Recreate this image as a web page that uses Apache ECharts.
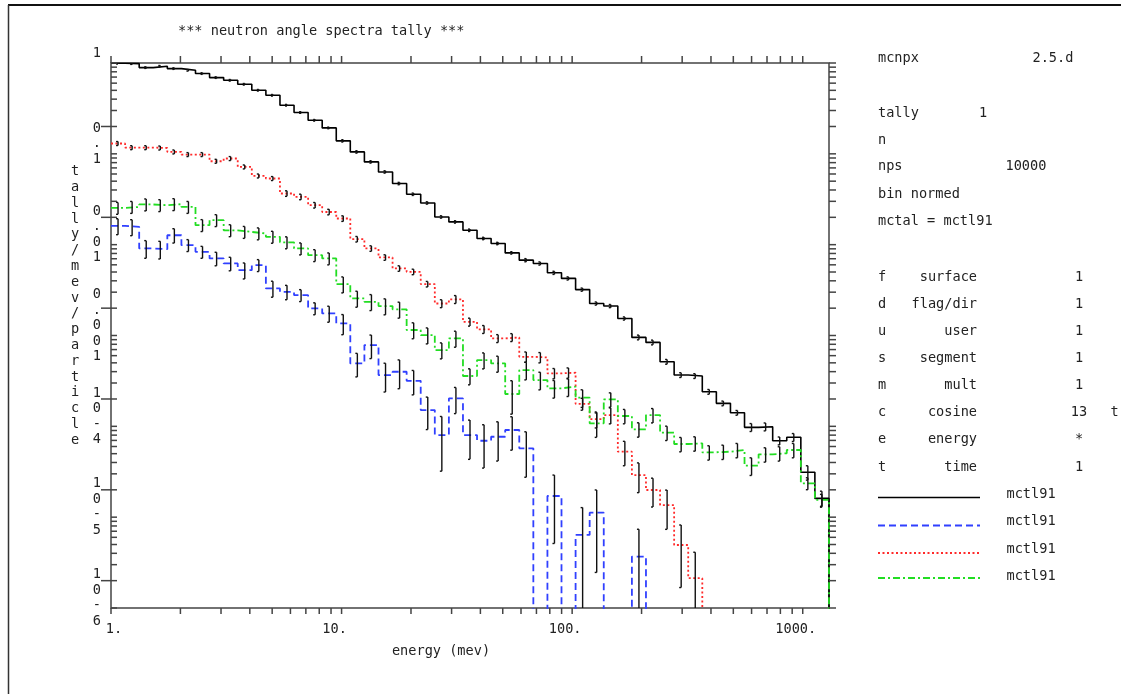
<!DOCTYPE html>
<html>
<head>
<meta charset="utf-8">
<script src="https://cdn.jsdelivr.net/npm/echarts@6/dist/echarts.min.js"></script>
<style>
  html, body { margin: 0; padding: 0; background: #fff; }
  #chart { width: 1121px; height: 694px; }
</style>
</head>
<body>
<div id="chart"></div>
<script>
// energy bin edges (mev), 51 bins
const energyEdges = [1, 1.151, 1.325, 1.525, 1.755, 2.020, 2.325, 2.676, 3.080, 3.545,
  4.080, 4.696, 5.405, 6.221, 7.160, 8.240, 9.483, 10.91, 12.56, 14.46,
  16.64, 19.15, 22.04, 25.37, 29.20, 33.61, 38.68, 44.52, 51.24, 58.97,
  67.87, 78.12, 89.91, 103.5, 119.1, 137.1, 157.8, 181.6, 209.0, 240.6,
  276.9, 318.7, 366.8, 422.1, 485.9, 559.2, 643.6, 740.8, 852.6, 981.3,
  1129, 1300];

// black solid
const blackTally = [0.995, 0.985, 0.890, 0.920, 0.868, 0.831, 0.765, 0.691, 0.645, 0.583,
  0.501, 0.441, 0.343, 0.285, 0.234, 0.193, 0.139, 0.105, 0.0815, 0.0632,
  0.0471, 0.0359, 0.0288, 0.0202, 0.0178, 0.0144, 0.0117, 0.0103, 0.00812, 0.00675,
  0.00621, 0.00490, 0.00425, 0.00320, 0.00225, 0.00211, 0.00154, 0.000953, 0.000839, 0.000514,
  0.000367, 0.000358, 0.000240, 0.000179, 0.000141, 0.0000975, 0.0000990, 0.0000694, 0.0000757, 0.0000312,
  0.0000161];
const blackErr = [0.02, 0.02, 0.02, 0.02, 0.02, 0.02, 0.02, 0.02, 0.02, 0.02,
  0.02, 0.02, 0.02, 0.02, 0.02, 0.02, 0.03, 0.03, 0.03, 0.03,
  0.03, 0.03, 0.03, 0.03, 0.03, 0.03, 0.03, 0.03, 0.03, 0.04,
  0.04, 0.04, 0.04, 0.04, 0.04, 0.04, 0.04, 0.06, 0.06, 0.06,
  0.06, 0.06, 0.06, 0.06, 0.06, 0.1, 0.1, 0.1, 0.1, 0.18,
  0.2];

// blue dashed
const blueTally = [0.0161, 0.0157, 0.00908, 0.00892, 0.0127, 0.00988, 0.00833, 0.00705, 0.00621, 0.00524,
  0.00595, 0.00330, 0.00302, 0.00278, 0.00199, 0.00175, 0.00136, 0.000493, 0.000784, 0.000367,
  0.000399, 0.000317, 0.000151, 0.0000802, 0.000203, 0.0000802, 0.0000694, 0.0000768, 0.0000911, 0.0000573,
  0, 0.0000171, 0, 0.00000637, 0.0000112, 0, 0, 0.00000368, 0, 0,
  0, 0, 0, 0, 0, 0, 0, 0, 0, 0,
  0];
const blueErr = [0.2, 0.2, 0.22, 0.22, 0.18, 0.15, 0.15, 0.17, 0.17, 0.2,
  0.15, 0.2, 0.18, 0.15, 0.15, 0.2, 0.25, 0.29, 0.29, 0.35,
  0.35, 0.3, 0.39, 0.6, 0.32, 0.46, 0.5, 0.46, 0.4, 0.52,
  0, 0.7, 0, 1.0, 0.78, 0, 0, 1.0, 0, 0,
  0, 0, 0, 0, 0, 0, 0, 0, 0, 0,
  0];

// red dotted
const redTally = [0.130, 0.117, 0.117, 0.116, 0.105, 0.0982, 0.0982, 0.0829, 0.0888, 0.0718,
  0.0571, 0.0535, 0.0366, 0.0336, 0.0272, 0.0229, 0.0194, 0.0115, 0.00908, 0.00723,
  0.00547, 0.00502, 0.00368, 0.00225, 0.00250, 0.00141, 0.00117, 0.000929, 0.000953, 0.000583,
  0.000574, 0.000383, 0.000389, 0.000177, 0.000120, 0.000133, 0.0000526, 0.0000291, 0.0000199, 0.0000136,
  0.00000494, 0.00000213, 0, 0, 0, 0, 0, 0, 0, 0,
  0];
const redErr = [0.05, 0.05, 0.05, 0.05, 0.05, 0.05, 0.05, 0.05, 0.05, 0.05,
  0.05, 0.05, 0.07, 0.07, 0.07, 0.07, 0.07, 0.07, 0.07, 0.07,
  0.07, 0.07, 0.07, 0.1, 0.1, 0.1, 0.1, 0.1, 0.1, 0.13,
  0.13, 0.13, 0.13, 0.15, 0.2, 0.2, 0.3, 0.36, 0.35, 0.46,
  0.66, 0.93, 0, 0, 0, 0, 0, 0, 0, 0,
  0];

// green dash-dot
const greenTally = [0.0254, 0.0260, 0.0277, 0.0272, 0.0279, 0.0260, 0.0164, 0.0186, 0.0144, 0.0138,
  0.0133, 0.0122, 0.0106, 0.00908, 0.00766, 0.00705, 0.00368, 0.00256, 0.00235, 0.00211,
  0.00194, 0.00115, 0.00101, 0.000691, 0.000929, 0.000358, 0.000536, 0.000493, 0.000227, 0.000416,
  0.000323, 0.000262, 0.000273, 0.000207, 0.000108, 0.000198, 0.000130, 0.0000927, 0.000133, 0.0000851,
  0.0000639, 0.0000650, 0.0000518, 0.0000526, 0.0000549, 0.0000369, 0.0000492, 0.0000505, 0.0000549, 0.0000236,
  0.0000155];
const greenErr = [0.15, 0.15, 0.15, 0.15, 0.15, 0.15, 0.15, 0.15, 0.15, 0.15,
  0.15, 0.15, 0.15, 0.15, 0.15, 0.15, 0.2, 0.2, 0.2, 0.2,
  0.2, 0.2, 0.2, 0.2, 0.2, 0.2, 0.2, 0.2, 0.4, 0.22,
  0.22, 0.22, 0.22, 0.22, 0.3, 0.18, 0.18, 0.18, 0.18, 0.18,
  0.18, 0.18, 0.18, 0.18, 0.18, 0.22, 0.18, 0.18, 0.18, 0.15,
  0.15];

const xTickValues = [1, 10, 100, 1000];
const xTickLabels = ['1.', '10.', '100.', '1000.'];
const yTickValues = [1, 0.1, 0.01, 0.001, 1e-4, 1e-5, 1e-6];
const yTickLabels = ['1', '0.1', '0.01', '0.001', '10-4', '10-5', '10-6'];

const headerRows = [['mcnpx', '2.5.d'], ['tally', '1'], ['n', ''], ['nps', '10000'], ['bin normed', ''], ['mctal = mctl91', '']];
const binRows = [['f', 'surface', '1'], ['d', 'flag/dir', '1'], ['u', 'user', '1'], ['s', 'segment', '1'],
  ['m', 'mult', '1'], ['c', 'cosine', '13'], ['e', 'energy', '*'], ['t', 'time', '1']];
const legendNames = ['mctl91', 'mctl91', 'mctl91', 'mctl91'];

const X_MIN = 1, X_MAX = 1300, Y_MIN = 1e-6, Y_MAX = 1;
const FLOOR = 1e-12;
const FONT_FAMILY = '"DejaVu Sans Mono", monospace';
const FONT = '13.6px ' + FONT_FAMILY;
const TEXT = '#222';

function labelFor(values, labels, v) {
  for (let i = 0; i < values.length; i++) {
    if (Math.abs(Math.log10(v) - Math.log10(values[i])) < 1e-6) return labels[i];
  }
  return '';
}

// histogram as a step line from bin edges
function stepData(vals) {
  const pts = vals.map((v, i) => [energyEdges[i], v > 0 ? v : FLOOR]);
  const last = vals[vals.length - 1];
  pts.push([energyEdges[vals.length], last > 0 ? last : FLOOR]);
  pts.push([energyEdges[vals.length], FLOOR]);
  return pts;
}

function errData(vals, errs) {
  const out = [];
  vals.forEach((v, i) => {
    if (v > 0 && errs[i] > 0) {
      const xc = Math.sqrt(energyEdges[i] * energyEdges[i + 1]);
      out.push([xc, v, Math.max(v * (1 - errs[i]), FLOOR), v * (1 + errs[i])]);
    }
  });
  return out;
}

function histSeries(name, vals, color, dash, width) {
  return {
    name: name, type: 'line', step: 'end', symbol: 'none', clip: true,
    data: stepData(vals),
    lineStyle: { color: color, width: width, type: dash },
    z: 3
  };
}

function errSeries(vals, errs) {
  return {
    type: 'custom', clip: true, z: 4,
    data: errData(vals, errs),
    renderItem: function (params, api) {
      const x = api.value(0);
      const top = api.coord([x, api.value(3)]);
      const bot = api.coord([x, api.value(2)]);
      const st = { stroke: '#111', lineWidth: 1.4 };
      return {
        type: 'group', children: [
          { type: 'line', shape: { x1: top[0], y1: top[1], x2: bot[0], y2: bot[1] }, style: st },
          { type: 'line', shape: { x1: top[0] - 2, y1: top[1], x2: top[0], y2: top[1] }, style: st },
          { type: 'line', shape: { x1: bot[0] - 2, y1: bot[1], x2: bot[0], y2: bot[1] }, style: st }
        ]
      };
    }
  };
}

// tick positions 1..9 per decade
const xTickAll = [];
for (let d = 1; d <= 1000; d *= 10) for (let m = 1; m <= 9; m++) if (m * d <= X_MAX) xTickAll.push([m * d, Y_MAX, m]);
const yTickAll = [];
for (let d = 1e-6; d < 1.5; d *= 10) for (let m = 1; m <= 9; m++) if (m * d <= Y_MAX * 1.0001) yTickAll.push([X_MIN, m * d, m]);

const tickStyle = { stroke: '#444', lineWidth: 1.5 };

const xTickSeries = {
  type: 'custom', clip: false, silent: true, z: 5,
  data: xTickAll,
  renderItem: function (params, api) {
    const x = api.value(0);
    const top = api.coord([x, Y_MAX]);
    const bot = api.coord([x, Y_MIN]);
    return {
      type: 'group', children: [
        { type: 'line', shape: { x1: top[0], y1: top[1], x2: top[0], y2: top[1] - 7 }, style: tickStyle },
        { type: 'line', shape: { x1: bot[0], y1: bot[1], x2: bot[0], y2: bot[1] + 6 }, style: tickStyle }
      ]
    };
  }
};

const yTickSeries = {
  type: 'custom', clip: false, silent: true, z: 5,
  data: yTickAll,
  renderItem: function (params, api) {
    const y = api.value(1);
    const left = api.coord([X_MIN, y]);
    const right = api.coord([X_MAX, y]);
    const kids = [
      { type: 'line', shape: { x1: left[0], y1: left[1], x2: left[0] + 6, y2: left[1] }, style: tickStyle },
      { type: 'line', shape: { x1: right[0], y1: right[1], x2: right[0] + 7, y2: right[1] }, style: tickStyle }
    ];
    if (api.value(2) === 2) {
      kids.push({ type: 'line', shape: { x1: left[0] - 10, y1: left[1], x2: left[0], y2: left[1] }, style: tickStyle });
    }
    return { type: 'group', children: kids };
  }
};

function txt(text, x, y, align, extra) {
  const style = Object.assign({
    text: text, font: FONT, fill: TEXT,
    textAlign: align || 'left', textVerticalAlign: 'middle',
    align: align || 'left', verticalAlign: 'middle'
  }, extra || {});
  return { type: 'text', x: x, y: y, silent: true, style: style };
}

const graphics = [];
// frame
graphics.push({ type: 'line', shape: { x1: 8, y1: 5, x2: 1121, y2: 5 }, style: { stroke: '#111', lineWidth: 2 } });
graphics.push({ type: 'line', shape: { x1: 8.5, y1: 5, x2: 8.5, y2: 694 }, style: { stroke: '#333', lineWidth: 1.5 } });
// title and axis names
graphics.push(txt('*** neutron angle spectra tally ***', 178, 31, 'left'));
graphics.push(txt('tally/mev/particle'.split('').join('\n'), 75, 306, 'center', { lineHeight: 15.8 }));
graphics.push(txt('energy (mev)', 441, 651, 'center'));
// info panel
const headerY = [58.5, 113.3, 140, 166.7, 194, 221];
headerRows.forEach((r, i) => {
  graphics.push(txt(r[0], 878, headerY[i], 'left'));
});
graphics.push(txt(headerRows[0][1], 1032.5, headerY[0], 'left'));
graphics.push(txt(headerRows[1][1], 983, headerY[1], 'center'));
graphics.push(txt(headerRows[3][1], 1005.5, headerY[3], 'left'));
binRows.forEach((r, i) => {
  const y = 277 + i * 27.15;
  graphics.push(txt(r[0], 878, y, 'left'));
  graphics.push(txt(r[1], 977, y, 'right'));
  graphics.push(txt(r[2], 1079, y, 'center'));
});
graphics.push(txt('t', 1110.5, 277 + 5 * 27.15, 'left'));
// legend samples
const legendStyles = [
  { stroke: '#000', lineWidth: 1.6 },
  { stroke: '#3040ff', lineWidth: 1.8, lineDash: [7, 4] },
  { stroke: '#ff2a2a', lineWidth: 1.8, lineDash: [2, 2.5] },
  { stroke: '#22dd22', lineWidth: 1.8, lineDash: [7, 3, 2, 3] }
];
const legendTextY = [494, 521.5, 549, 576];
const legendLineY = [497.5, 525.5, 553, 578];
legendNames.forEach((n, i) => {
  graphics.push({ type: 'line', silent: true, shape: { x1: 878, y1: legendLineY[i], x2: 980, y2: legendLineY[i] }, style: legendStyles[i] });
  graphics.push(txt(n, 1006.5, legendTextY[i], 'left'));
});

const chart = echarts.init(document.getElementById('chart'), null, { renderer: 'canvas' });
chart.setOption({
  backgroundColor: '#fff',
  animation: false,
  grid: {
    left: 111, top: 63, right: 292, bottom: 86,
    show: true, borderColor: '#444', borderWidth: 1.5, backgroundColor: 'transparent'
  },
  xAxis: {
    type: 'log', logBase: 10, min: X_MIN, max: X_MAX,
    axisLine: { show: false }, axisTick: { show: false }, splitLine: { show: false },
    axisLabel: {
      margin: 14, color: TEXT, fontFamily: FONT_FAMILY, fontSize: 13.6,
      showMinLabel: true, showMaxLabel: true,
      formatter: function (v) {
        const s = labelFor(xTickValues, xTickLabels, v);
        if (!s) return '';
        return s === '1.' ? '{f|' + s + '}' : '{n|' + s + '}';
      },
      rich: {
        n: { fontFamily: FONT_FAMILY, fontSize: 13.6, color: TEXT, padding: [0, 14, 0, 0] },
        f: { fontFamily: FONT_FAMILY, fontSize: 13.6, color: TEXT, padding: [0, 0, 0, 6] }
      }
    }
  },
  yAxis: {
    type: 'log', logBase: 10, min: Y_MIN, max: Y_MAX,
    axisLine: { show: false }, axisTick: { show: false }, splitLine: { show: false },
    axisLabel: {
      margin: 10, color: TEXT, fontFamily: FONT_FAMILY, fontSize: 13.6,
      align: 'right', verticalAlign: 'middle',
      showMinLabel: true, showMaxLabel: true,
      // characters stacked vertically, lifted about 10px above the tick
      formatter: function (v) {
        const s = labelFor(yTickValues, yTickLabels, v);
        if (!s) return '';
        return s.split('').map(c => '{c|' + c + '}').join('\n') + '\n{gap| }';
      },
      rich: {
        c: { fontFamily: FONT_FAMILY, fontSize: 13.6, color: TEXT, lineHeight: 15.5 },
        gap: { fontFamily: FONT_FAMILY, fontSize: 2, lineHeight: 20 }
      }
    }
  },
  graphic: graphics,
  series: [
    histSeries('mctl91 total', blackTally, '#000', 'solid', 1.6),
    histSeries('mctl91 blue', blueTally, '#3040ff', [7, 4], 1.8),
    histSeries('mctl91 red', redTally, '#ff2a2a', [2, 2.5], 1.8),
    histSeries('mctl91 green', greenTally, '#22dd22', [7, 3, 2, 3], 1.8),
    errSeries(blackTally, blackErr),
    errSeries(blueTally, blueErr),
    errSeries(redTally, redErr),
    errSeries(greenTally, greenErr),
    xTickSeries,
    yTickSeries
  ]
});
</script>
</body>
</html>
